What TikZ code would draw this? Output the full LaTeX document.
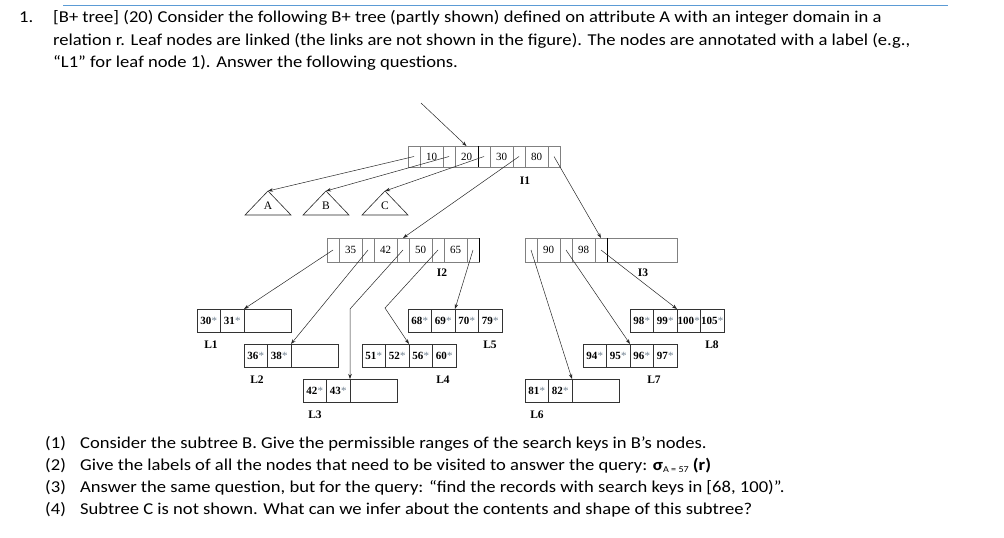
\documentclass[tikz,border=0pt]{standalone}
\usepackage{fontspec}
\setmainfont{Carlito}[FakeStretch=1.12]
\newfontfamily\tms{Liberation Serif}
\usetikzlibrary{arrows.meta}
\definecolor{rulecol}{HTML}{5B9BD5}
\definecolor{cellgray}{gray}{0.5}
\definecolor{stargray}{HTML}{6F8090}
\newcommand\st[1]{#1\kern0.3pt\textcolor{stargray}{\fontsize{11}{11}\selectfont\mdseries *}}
\newcommand\inode[5]{%
  \foreach \kk [count=\i from 0] in {#5} {
    \node[ptr, minimum height=#4] (#1p\i) at ({#2+35*\i},#3) {};
    \node[key, minimum height=#4] (#1k\i) at ({#2+12+35*\i},#3) {\kk};
  }}
\newcommand\leafnode[4]{%
  \foreach \kk [count=\i from 0] in {#4} {
    \node[lcell] (#1k\i) at ({#2+23.5*\i},#3) {\st{\kk}};
  }}
\begin{document}
\begin{tikzpicture}[x=1pt,y=-1pt,
  txt/.style={anchor=base west, inner sep=0pt, font=\fontsize{16.6}{18}\selectfont},
  ptr/.style={draw=cellgray, anchor=north west, minimum width=12pt, inner sep=0pt, outer sep=0pt},
  key/.style={draw=cellgray, anchor=north west, minimum width=23pt, inner sep=0pt, outer sep=0pt, font=\tms\fontsize{11}{11}\selectfont},
  lcell/.style={draw=black!80, anchor=north west, minimum width=23.5pt, minimum height=23.5pt, inner sep=0pt, outer sep=0pt, font=\tms\bfseries\fontsize{11}{11}\selectfont},
  lbl/.style={font=\tms\bfseries\fontsize{11.5}{11.5}\selectfont, inner sep=0pt},
  tlbl/.style={font=\tms\fontsize{11.5}{11.5}\selectfont, inner sep=0pt},
  arr/.style={-{Stealth[length=5pt,width=3.5pt]}, draw=black!85, line width=0.5pt},
  tri/.style={draw=black!85, line width=0.6pt},
]
\useasboundingbox (0,0) rectangle (1004,538);
% top rule
\coordinate (ruleL) at (63,5);
\coordinate (ruleR) at (948,5);
\draw[rulecol, line width=1pt] (ruleL) -- (ruleR);
% header text
\node[txt] (n1) at (19,23) {1.};
\node[txt] (h1) at (53,23) {[B+ tree] (20) Consider the following B+ tree (partly shown) defined on attribute A with an integer domain in a};
\node[txt] (h2) at (53,45) {relation r. Leaf nodes are linked (the links are not shown in the figure). The nodes are annotated with a label (e.g.,};
\node[txt] (h3) at (53,67) {“L1” for leaf node 1). Answer the following questions.};
% questions
\node[txt] (q1n) at (45,448) {(1)};
\node[txt] (q1) at (80,448) {Consider the subtree B. Give the permissible ranges of the search keys in B’s nodes.};
\node[txt] (q2n) at (45,470) {(2)};
\node[txt] (q2) at (80,470) {Give the labels of all the nodes that need to be visited to answer the query: {\bfseries σ}{\fontsize{9}{9}\selectfont\raisebox{-2pt}{A = 57}} {\bfseries (r)}};
\node[txt] (q3n) at (45,492) {(3)};
\node[txt] (q3) at (80,492) {Answer the same question, but for the query: “find the records with search keys in [68, 100)”.};
\node[txt] (q4n) at (45,514) {(4)};
\node[txt] (q4) at (80,514) {Subtree C is not shown. What can we infer about the contents and shape of this subtree?};

% ---- internal node I1
\inode{I1}{408}{146}{21}{10,20,30,80}
\node[ptr, minimum height=21] (I1p4) at (548,146) {};
\draw[black, line width=0.8pt] (I1k1.north east) -- (I1k1.south east);
\node[lbl] (I1l) at (525,181) {I1};
% ---- I2
\inode{I2}{327}{238}{24}{35,42,50,65}
\node[ptr, minimum height=24] (I2p4) at (467,238) {};
\draw[black, line width=0.8pt] (I2p4.north east) -- (I2p4.south east);
\node[lbl] (I2l) at (442,273) {I2};
% ---- I3
\inode{I3}{525}{238}{24}{90,98}
\node[ptr, minimum height=24] (I3p2) at (595,238) {};
\node[ptr, minimum height=24, minimum width=70] (I3e) at (607,238) {};
\draw[black, line width=0.8pt] (I3p2.north east) -- (I3p2.south east);
\node[lbl] (I3l) at (643,273) {I3};

% ---- subtrees
\coordinate (Atop) at (268,191);
\coordinate (Btop) at (326,191);
\coordinate (Ctop) at (385,191);
\draw[tri] (245,215) -- (Atop) -- (291,215) -- cycle;
\draw[tri] (303,215) -- (Btop) -- (349,215) -- cycle;
\draw[tri] (362,215) -- (Ctop) -- (408,215) -- cycle;
\node[tlbl] (A) at (268,206) {A};
\node[tlbl] (B) at (326,206) {B};
\node[tlbl] (C) at (385,206) {C};

% ---- leaves
\leafnode{L1}{197}{309}{30,31}
\node[lcell, minimum width=47] (L1e) at (244,309) {};
\node[lbl] (L1l) at (211,345) {L1};
\leafnode{L2}{244}{344}{36,38}
\node[lcell, minimum width=47] (L2e) at (291,344) {};
\node[lbl] (L2l) at (257,380) {L2};
\leafnode{L3}{303}{379}{42,43}
\node[lcell, minimum width=47] (L3e) at (350,379) {};
\node[lbl] (L3l) at (315,415) {L3};
\leafnode{L4}{362}{344}{51,52,56,60}
\node[lbl] (L4l) at (443,380) {L4};
\leafnode{L5}{408}{309}{68,69,70,79}
\node[lbl] (L5l) at (490,345) {L5};
\leafnode{L6}{525}{379}{81,82}
\node[lcell, minimum width=47] (L6e) at (572,379) {};
\node[lbl] (L6l) at (537,415) {L6};
\leafnode{L7}{583}{344}{94,95,96,97}
\node[lbl] (L7l) at (654,380) {L7};
\leafnode{L8}{630}{309}{98,99,100,105}
\node[lbl] (L8l) at (712,345) {L8};

% ---- connectors
\coordinate (root) at (421,103);
\draw[arr] (root) -- (I1k1.north);
\draw[arr] (I1p0.center) -- (Atop);
\draw[arr] (I1p1.center) -- (Btop);
\draw[arr] (I1p2.center) -- (Ctop);
\draw[arr] (I1p3.center) -- (I2p2.north);
\draw[arr] (I1p4.center) -- (I3p2.north);

\coordinate (b3) at (350,309);
\coordinate (b4) at (385,308);
\draw[arr] (I2p0.center) -- (L1k1.north east);
\draw[arr] (I2p1.center) -- (L2k1.north east);
\draw[arr] (I2p2.center) -- (b3) -- (L3k1.north east);
\draw[arr] (I2p3.center) -- (b4) -- (L4k1.north east);
\draw[arr] (I2p4.center) -- (L5k1.north east);
\draw[arr] (I3p0.center) -- (L6k1.north east);
\draw[arr] (I3p1.center) -- (L7k1.north east);
\draw[arr] (I3p2.center) -- (L8k1.north east);
\end{tikzpicture}
\end{document}
